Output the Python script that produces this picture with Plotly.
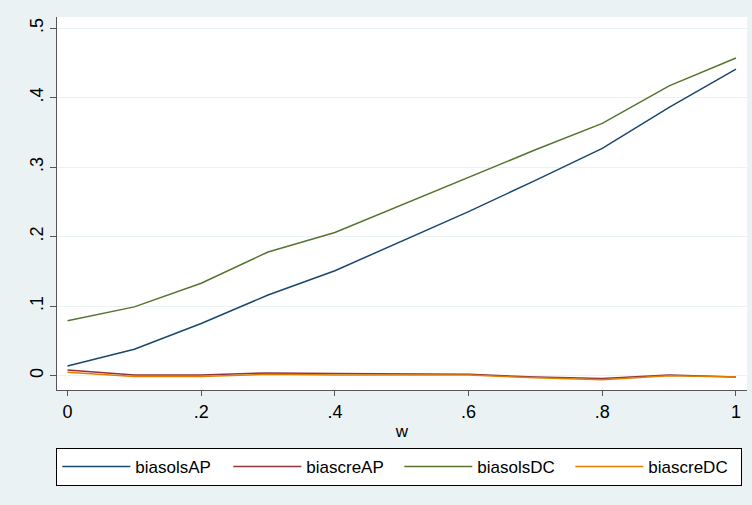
import plotly.graph_objects as go

w = [0, .1, .2, .3, .4, .5, .6, .7, .8, .9, 1]
biasolsAP = [0.014, 0.038, 0.075, 0.116, 0.151, 0.194, 0.236, 0.281, 0.327, 0.386, 0.441]
biascreAP = [0.008, 0.001, 0.001, 0.004, 0.003, 0.003, 0.002, -0.002, -0.004, 0.001, -0.002]
biasolsDC = [0.079, 0.099, 0.133, 0.178, 0.206, 0.246, 0.286, 0.325, 0.363, 0.417, 0.457]
biascreDC = [0.005, -0.001, -0.001, 0.002, 0.001, 0.001, 0.001, -0.003, -0.006, 0.000, -0.002]

series = [("biasolsAP", biasolsAP, "#1a476f"),
          ("biascreAP", biascreAP, "#90353b"),
          ("biasolsDC", biasolsDC, "#55752f"),
          ("biascreDC", biascreDC, "#e37e00")]

xticks = [0, .2, .4, .6, .8, 1]
xticktext = ["0", ".2", ".4", ".6", ".8", "1"]
yticks = [0, .1, .2, .3, .4, .5]
yticktext = ["0", ".1", ".2", ".3", ".4", ".5"]

fig = go.Figure()
for name, vals, col in series:
    fig.add_trace(go.Scatter(x=w, y=vals, name=name, mode="lines",
                             line=dict(color=col, width=1.5)))

FAM = "Liberation Sans, Arial, sans-serif"
font = dict(family=FAM, size=18, color="#000")
fig.update_layout(
    width=752, height=505,
    margin=dict(l=57, r=5, t=17, b=115),
    paper_bgcolor="#eaf2f3", plot_bgcolor="#ffffff",
    font=font,
    showlegend=True,
    legend=dict(orientation="h", x=-0.001, xanchor="left", y=-58/373, yanchor="top",
                bgcolor="#ffffff", bordercolor="#000000", borderwidth=1,
                entrywidth=88, entrywidthmode="pixels", itemwidth=68,
                font=dict(family=FAM, size=17, color="#000")),
    xaxis=dict(range=[-0.0157, 1.0165], tickvals=xticks, ticktext=xticktext,
               showgrid=False, zeroline=False, showline=True, linecolor="#555555",
               linewidth=1, ticks="outside", ticklen=5, tickcolor="#555555",
               title=dict(text="w", standoff=4, font=dict(family=FAM, size=17)),
               tickfont=font, automargin=False),
    yaxis=dict(range=[-0.0206, 0.516], tickvals=yticks, ticktext=yticktext,
               showgrid=True, gridcolor="#eaf2f3", gridwidth=1, zeroline=False,
               showline=True, linecolor="#555555", linewidth=1, ticks="outside",
               ticklen=6, tickcolor="#555555", tickangle=-90, tickfont=font,
               automargin=False),
)
fig.write_html("out.html", config={"displayModeBar": False},
               post_script="document.body.style.margin='0';")
